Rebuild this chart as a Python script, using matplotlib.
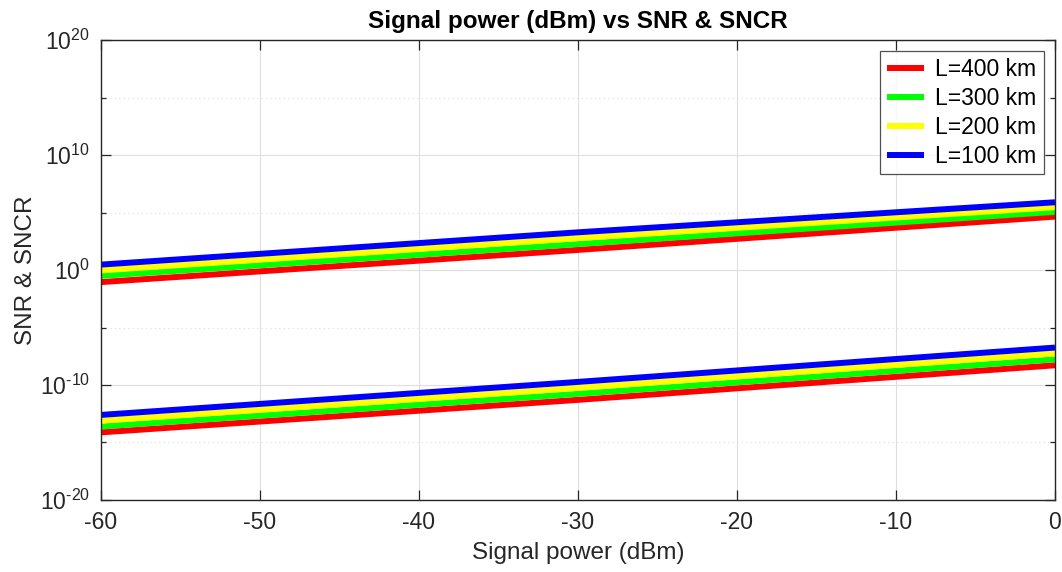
import matplotlib
matplotlib.use("Agg")
import matplotlib.pyplot as plt
from matplotlib.ticker import FixedLocator, NullFormatter

plt.rcParams["font.family"] = ["Liberation Sans", "DejaVu Sans"]
plt.rcParams["mathtext.fontset"] = "custom"
plt.rcParams["mathtext.rm"] = "Liberation Sans"
plt.rcParams["mathtext.it"] = "Liberation Sans"

# Signal power sample points (dBm)
power_dbm = [-60, -30, 0]

# SNR curves (upper group)
snr_400 = [8.9e-2, 5.6e1, 4.4e4]
snr_300 = [3.1e-1, 1.8e2, 1.15e5]
snr_200 = [9.3e-1, 5.9e2, 2.95e5]
snr_100 = [2.95e0, 1.9e3, 7.8e5]

# SNCR curves (lower group)
sncr_400 = [7.6e-15, 5.1e-12, 5.2e-9]
sncr_300 = [2.45e-14, 1.7e-11, 1.7e-8]
sncr_200 = [7.8e-14, 5.6e-11, 5.6e-8]
sncr_100 = [2.5e-13, 1.86e-10, 1.8e-7]

labels = ["L=400 km", "L=300 km", "L=200 km", "L=100 km"]
colors = ["#ff0000", "#00ff00", "#ffff00", "#0000ff"]
snr = [snr_400, snr_300, snr_200, snr_100]
sncr = [sncr_400, sncr_300, sncr_200, sncr_100]

x_ticks = [-60, -50, -40, -30, -20, -10, 0]
y_ticks = [1e-20, 1e-10, 1e0, 1e10, 1e20]
y_minor = [1e-15, 1e-5, 1e5, 1e15]
y_exponents = ["-20", "-10", "0", "10", "20"]

fig = plt.figure(figsize=(10.62, 5.72), dpi=100)
ax = fig.add_axes([0.0951, 0.1259, 0.8983, 0.8041])

lw = 4.3
for lab, c, s in zip(labels, colors, snr):
    ax.semilogy(power_dbm, s, color=c, lw=lw, label=lab, solid_capstyle="butt")
for c, s in zip(colors, sncr):
    ax.semilogy(power_dbm, s, color=c, lw=lw, solid_capstyle="butt")

ax.set_xlim(-60, 0)
ax.set_ylim(1e-20, 1e20)
ax.set_xticks(x_ticks)
ax.set_xticklabels([str(v) for v in x_ticks])
ax.yaxis.set_major_locator(FixedLocator(y_ticks))
ax.yaxis.set_minor_locator(FixedLocator(y_minor))
ax.yaxis.set_minor_formatter(NullFormatter())
# exponent written with a plain hyphen (mathtext would turn '-' into a minus sign)
ax.set_yticklabels([r"$10^{%s}$" % e.replace("-", "\u2010") for e in y_exponents])

axis_col = (0.15, 0.15, 0.15)
for sp in ax.spines.values():
    sp.set_color(axis_col)
    sp.set_linewidth(1.0)
ax.tick_params(which="both", direction="in", top=True, right=True,
               colors=axis_col, labelsize=16.5)
ax.tick_params(which="major", length=7, width=0.9, pad=8)
ax.tick_params(which="minor", length=3.6, width=0.9)
ax.tick_params(axis="x", which="minor", length=0)

ax.grid(True, which="major", color="#dfdfdf", lw=0.8, ls="-")
ax.grid(True, which="minor", axis="y", color="#dcdcdc", lw=0.8, ls=(0, (1, 3)))
ax.set_axisbelow(True)

ax.set_title("Signal power (dBm) vs SNR & SNCR", fontsize=17.5,
             fontweight="bold", color="black", pad=9)
ax.set_xlabel("Signal power (dBm)", fontsize=17.5, color=axis_col, labelpad=6)
ax.set_ylabel("SNR & SNCR", fontsize=17.5, color=axis_col)
ax.yaxis.set_label_coords(-0.067, 0.5)

leg = ax.legend(loc="upper right", fontsize=16.5, frameon=True, fancybox=False,
                edgecolor=axis_col, handlelength=1.6, handletextpad=0.5,
                borderaxespad=0.5, labelspacing=0.25, borderpad=0.3)
leg.get_frame().set_linewidth(0.9)
for h in leg.get_lines():
    h.set_linewidth(4.3)

fig.savefig("out.png", dpi=100, facecolor="white")
